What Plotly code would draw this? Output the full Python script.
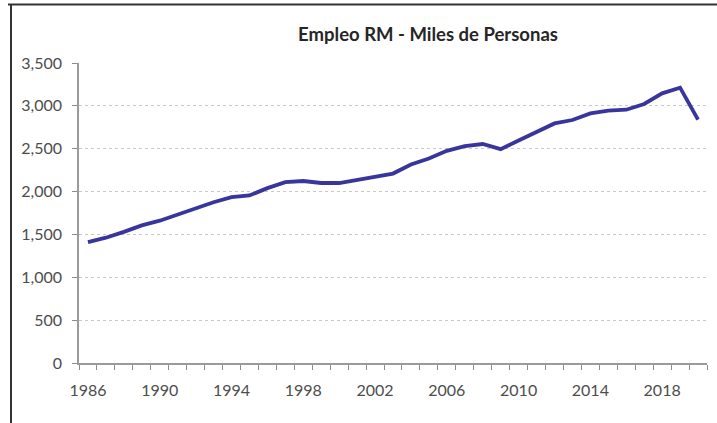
import plotly.graph_objects as go

years = list(range(1986, 2021))
empleo = [1410, 1462, 1530, 1605, 1660, 1735, 1810, 1875, 1935, 1955,
          2040, 2110, 2123, 2100, 2100, 2135, 2170, 2210, 2315, 2385,
          2475, 2530, 2555, 2495, 2595, 2700, 2795, 2835, 2912, 2944,
          2955, 3022, 3146, 3212, 2840]
x_labels = [str(y) for y in range(1986, 2021, 4)]
y_ticks = [0, 500, 1000, 1500, 2000, 2500, 3000, 3500]

W, H = 717, 423
L, R, T, B = 79, 10, 63, 60

fig = go.Figure()
fig.add_trace(go.Scatter(x=years, y=empleo, mode="lines",
                         line=dict(color="#38369c", width=3.8),
                         hoverinfo="x+y"))

font = dict(family="Lato, 'Open Sans', sans-serif", size=16, color="#4d4d4d")

fig.update_layout(
    width=W, height=H,
    margin=dict(l=L, r=R, t=T, b=B, pad=0),
    paper_bgcolor="white", plot_bgcolor="white",
    showlegend=False,
    font=font,
    title=dict(text="<b>Empleo RM - Miles de Personas</b>",
               x=428 / W, xanchor="center", y=1 - 35 / H, yanchor="middle",
               font=dict(family="Lato, 'Open Sans', sans-serif", size=18.5, color="#262626")),
    xaxis=dict(range=[years[0] - 0.5, years[-1] + 0.5],
               tickvals=[int(v) for v in x_labels], ticktext=x_labels,
               ticks="", showgrid=False, zeroline=False,
               showline=True, linecolor="#9a9a9a", linewidth=1.5,
               tickfont=font, ticklabelstandoff=12,
               minor=dict(tick0=years[0] - 0.5, dtick=1, ticks="outside",
                          ticklen=5, tickcolor="#8c8c8c", tickwidth=1, showgrid=False)),
    yaxis=dict(range=[0, 3500], tickvals=y_ticks, tickformat=",",
               ticks="outside", ticklen=5, tickcolor="#8c8c8c", tickwidth=1,
               showline=True, linecolor="#9a9a9a", linewidth=1.5,
               showgrid=True, gridcolor="#c8c8c8", griddash="dot", gridwidth=1,
               zeroline=False, tickfont=font, ticklabelstandoff=7),
    shapes=[
        dict(type="line", xref="paper", yref="paper",
             x0=(8 - L) / (W - L - R), x1=(W - L) / (W - L - R),
             y0=(H - 4.5 - B) / (H - T - B), y1=(H - 4.5 - B) / (H - T - B),
             line=dict(color="#333333", width=2)),
        dict(type="line", xref="paper", yref="paper",
             x0=(11 - L) / (W - L - R), x1=(11 - L) / (W - L - R),
             y0=(H - 4 - B) / (H - T - B), y1=(0 - B) / (H - T - B),
             line=dict(color="#333333", width=2)),
    ],
)

fig.write_html("out.html")
